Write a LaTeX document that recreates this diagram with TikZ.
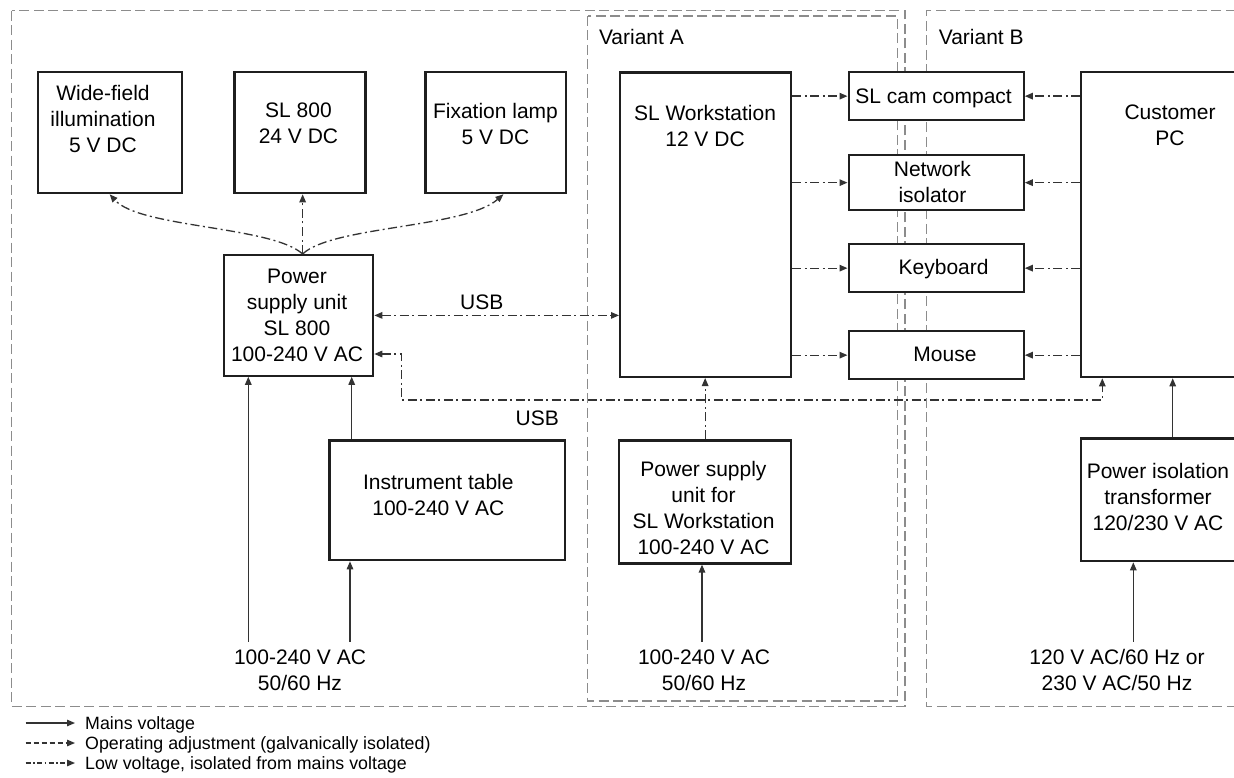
\documentclass[tikz,border=0pt]{standalone}
\usepackage{fontspec}
\setmainfont{Liberation Sans}
\usetikzlibrary{arrows.meta,calc}
\newcommand{\sst}{\rule[-5.5pt]{0pt}{26pt}}
\begin{document}
\begin{tikzpicture}[x=1pt,y=-1pt,
  box/.style={draw=black!88, line width=2.3pt, fill=white, inner sep=0pt, anchor=north west},
  txt/.style={font=\fontsize{21}{26}\selectfont, align=center, inner sep=0pt, text=black},
  lgd/.style={font=\fontsize{17.8}{20}\selectfont, inner sep=0pt, anchor=base west, text=black},
  border/.style={draw=black!45, line width=1.1pt, dash pattern=on 10pt off 4.5pt},
  dd/.style={draw=black!80, line width=1.3pt, dash pattern=on 9pt off 3.5pt on 2pt off 3.5pt},
  dsh/.style={draw=black!80, line width=1.3pt, dash pattern=on 5pt off 3pt},
  sol/.style={draw=black!80, line width=1.3pt},
  arr/.style={-{Triangle[length=8pt,width=6.5pt]}},
  darr/.style={{Triangle[length=8pt,width=6.5pt]}-{Triangle[length=8pt,width=6.5pt]}}]
\useasboundingbox[fill=white] (0,0) rectangle (1234,778);

% group borders
\draw[border] (11.9,10.7) rectangle (905,706.7);
\draw[border] (587.5,16) rectangle (897.7,701);
\draw[border] (1250,10.7) -- (926.7,10.7) -- (926.7,706.7) -- (1250,706.7);
\node[txt, anchor=base west] (va) at (598.8,44.5) {Variant A};
\node[txt, anchor=base west] (vb) at (938.6,44.5) {Variant B};

% boxes
\node[box, minimum width=144pt, minimum height=121pt] (wf) at (36.5,71) {};
\node[box, minimum width=131pt, minimum height=121pt] (sl) at (233.3,71) {};
\node[box, minimum width=140.7pt, minimum height=121pt] (fix) at (424.3,71) {};
\node[box, minimum width=149pt, minimum height=120.5pt] (psu) at (223,254) {};
\node[box, minimum width=171pt, minimum height=304.2pt] (ws) at (619,71.5) {};
\node[box, minimum width=175pt, minimum height=48pt] (cam) at (847.5,71) {};
\node[box, minimum width=175pt, minimum height=55pt] (net) at (847.5,154) {};
\node[box, minimum width=175pt, minimum height=48pt] (kb) at (847.5,243) {};
\node[box, minimum width=175pt, minimum height=48pt] (mouse) at (847.5,330) {};
\node[box, minimum width=170pt, minimum height=305pt] (pc) at (1080,71) {};
\node[box, minimum width=235.7pt, minimum height=119.7pt] (it) at (328.3,439.3) {};
\node[box, minimum width=172pt, minimum height=123pt] (psuw) at (618,439.3) {};
\node[box, minimum width=170pt, minimum height=122.7pt] (tr) at (1080,437.3) {};

% box texts
\node[txt] (wft) at (103,119.5) {\sst Wide-field\\\sst illumination\\\sst 5 V DC};
\node[txt] (slt) at (298.5,123.3) {\sst SL 800\\\sst 24 V DC};
\node[txt] (fixt) at (495.5,123.8) {\sst Fixation lamp\\\sst 5 V DC};
\node[txt] (psut) at (297,314.5) {\sst Power\\\sst supply unit\\\sst SL 800\\\sst 100-240 V AC};
\node[txt] (wst) at (705,126) {\sst SL Workstation\\\sst 12 V DC};
\node[txt] (camt) at (933.6,96) {\sst SL cam compact};
\node[txt] (nett) at (932.4,182) {\sst Network\\\sst isolator};
\node[txt] (kbt) at (943.6,267) {\sst Keyboard};
\node[txt] (mouset) at (945,354) {\sst Mouse};
\node[txt] (pct) at (1170,125.3) {\sst Customer\\\sst PC};
\node[txt] (itt) at (438.3,494.5) {\sst Instrument table\\\sst 100-240 V AC};
\node[txt] (psuwt) at (703.5,507.5) {\sst Power supply\\\sst unit for\\\sst SL Workstation\\\sst 100-240 V AC};
\node[txt] (trt) at (1158,496.7) {\sst Power isolation\\\sst transformer\\\sst 120/230 V AC};

% mains labels
\node[txt] (ml1) at (300,670) {\sst 100-240 V AC\\\sst 50/60 Hz};
\node[txt] (ml2) at (704,670) {\sst 100-240 V AC\\\sst 50/60 Hz};
\node[txt] (ml3) at (1117,670) {\sst 120 V AC/60 Hz or\\\sst 230 V AC/50 Hz};

% USB labels
\node[txt, anchor=base] (usb1) at (481.7,309.2) {USB};
\node[txt, anchor=base] (usb2) at (537.3,425.2) {USB};

% PSU to top devices
\draw[dd,arr] ([xshift=4pt]psu.north) .. controls (272,226) and (140,228) .. (wf.south);
\draw[dd,arr] ([xshift=4pt]psu.north) -- ([xshift=4pt]psu.north |- sl.south);
\draw[dd,arr] ([xshift=4pt]psu.north) .. controls (332,226) and (465,228) .. ([xshift=7.6pt]fix.south);

% USB connections
\draw[dd,darr] (psu.east) -- (psu.east -| ws.west);
\coordinate (ua) at (401.7,354);
\coordinate (ub) at (1102.3,400);
\draw[dd,darr] (psu.east |- ua) -- (ua) -- (ua |- ub) -- (ub) -- (ub |- pc.south);

% workstation to peripherals
\foreach \n in {cam,net,kb,mouse}{
  \draw[dd,arr] (ws.east |- \n.west) -- (\n.west);
  \draw[dd,arr] (pc.west |- \n.east) -- (\n.east);
}
\draw[dd,arr] (psuw.north) -- (psuw.north |- ws.south);

% mains
\coordinate (m1) at (248.3,641.7);
\coordinate (m2) at (350,641.7);
\coordinate (m3) at (351.7,0);
\coordinate (m4) at (702,641.7);
\coordinate (m5) at (1133.3,641.7);
\coordinate (trx) at (1172.7,0);
\draw[sol,arr] (m1) -- (m1 |- psu.south);
\draw[sol,arr] (m2) -- (m2 |- it.south);
\draw[sol,arr] (it.north -| m3) -- (psu.south -| m3);
\draw[sol,arr] (m4) -- (m4 |- psuw.south);
\draw[sol,arr] (m5) -- (m5 |- tr.south);
\draw[sol,arr] (tr.north -| trx) -- (pc.south -| trx);

% legend
\coordinate (l1a) at (25.7,723); \coordinate (l1b) at (75,723);
\coordinate (l2a) at (25.7,743); \coordinate (l2b) at (75,743);
\coordinate (l3a) at (25.7,763); \coordinate (l3b) at (75,763);
\draw[sol,arr] (l1a) -- (l1b);
\draw[dsh,arr] (l2a) -- (l2b);
\draw[dd,arr,dash pattern=on 5pt off 2.5pt on 1.5pt off 2.5pt] (l3a) -- (l3b);
\node[lgd] (lt1) at (85,729.3) {Mains voltage};
\node[lgd] (lt2) at (85,749.3) {Operating adjustment (galvanically isolated)};
\node[lgd] (lt3) at (85,769.3) {Low voltage, isolated from mains voltage};
\end{tikzpicture}
\end{document}
